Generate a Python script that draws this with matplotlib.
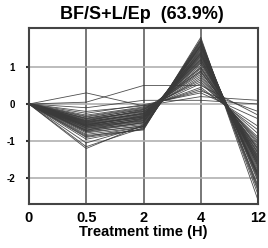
import matplotlib
matplotlib.use("Agg")
import matplotlib.pyplot as plt

time_labels = ["0", "0.5", "2", "4", "12"]

v0 = [0.0] * 50
v05 = [-0.55,-0.62,-0.48,-0.70,-0.40,-0.35,-0.58,-0.66,-0.75,-0.45,
       -0.52,-0.60,-0.30,-0.82,-0.50,-0.44,-0.68,-0.72,-0.38,-0.56,
       -0.64,-0.90,-0.25,-0.47,-0.53,-0.78,-0.42,-0.60,-0.85,-0.33,
       -0.57,-0.49,-0.95,-1.05,-1.15,-1.20,-0.20,-0.10,0.30,0.05,
       -0.65,-0.71,-0.54,-0.46,-0.61,-0.39,-0.74,-0.58,-0.88,-0.51]
v2 = [-0.35,-0.45,-0.25,-0.50,-0.20,-0.12,-0.40,-0.48,-0.60,-0.22,
      -0.30,-0.44,-0.08,-0.62,-0.28,-0.18,-0.52,-0.55,-0.15,-0.36,
      -0.42,-0.68,-0.02,-0.26,-0.33,-0.58,-0.20,-0.38,-0.70,-0.10,
      -0.31,-0.27,-0.66,-0.60,-0.64,-0.56,-0.05,0.10,-0.05,0.50,
      -0.46,-0.40,-0.35,-0.16,-0.38,-0.14,-0.50,-0.32,-0.62,-0.24]
v4 = [1.20,1.40,0.90,1.55,0.70,0.60,1.30,1.45,1.65,0.85,
      1.10,1.35,0.40,1.70,1.00,0.80,1.50,1.60,0.55,1.25,
      1.42,1.75,0.30,0.95,1.15,1.62,0.75,1.32,1.80,0.45,
      1.18,1.05,1.68,1.48,1.58,1.38,0.20,0.10,0.35,0.50,
      1.52,1.28,1.22,0.88,1.36,0.65,1.57,1.12,1.72,0.98]
v12 = [-1.50,-1.70,-1.20,-1.90,-1.00,-0.90,-1.60,-1.80,-2.10,-1.10,
       -1.40,-1.65,-0.60,-2.30,-1.30,-1.15,-1.85,-2.00,-0.80,-1.55,
       -1.75,-2.45,-0.40,-1.25,-1.45,-2.20,-1.05,-1.62,-2.60,-0.70,
       -1.48,-1.35,-2.35,-1.95,-2.05,-1.88,0.10,0.00,-0.20,-0.30,
       -1.92,-1.58,-1.52,-1.22,-1.68,-0.95,-1.98,-1.42,-2.25,-1.32]

fig = plt.figure(figsize=(2.68, 2.48), dpi=100)
ax = fig.add_axes([0.108, 0.177, 0.855, 0.71])
xs = list(range(len(time_labels)))
for prof in zip(v0, v05, v2, v4, v12):
    ax.plot(xs, prof, color="#3a3a3a", lw=0.6, alpha=0.9)

ax.set_xlim(0, 4)
ax.set_ylim(-2.7, 2.05)
ax.set_xticks(xs)
ax.set_xticklabels(time_labels, fontsize=10.5, fontweight="bold", family="Liberation Sans")
ax.set_yticks([-2, -1, 0, 1])
ax.set_yticklabels(["-2", "-1", "0", "1"], fontsize=7, fontweight="bold", family="Liberation Sans")
ax.tick_params(axis="y", length=2, width=1.5, pad=8, color="#333333")
ax.tick_params(axis="x", length=0, pad=5)
for x in xs[1:-1]:
    ax.axvline(x, color="#606060", lw=1.2, zorder=0)
for y in [-2, -1, 0, 1]:
    ax.axhline(y, color="#b0b0b0", lw=1.2, zorder=0)
for s in ax.spines.values():
    s.set_color("#444444")
    s.set_linewidth(1.5)
ax.set_xlabel("Treatment time (H)", fontsize=10.5, fontweight="bold", family="Liberation Sans", labelpad=0)
fig.text(0.53, 0.94, "BF/S+L/Ep  (63.9%)", ha="center", va="center",
         fontsize=13, fontweight="bold", family="Liberation Sans")
fig.savefig("out.png", dpi=100)
